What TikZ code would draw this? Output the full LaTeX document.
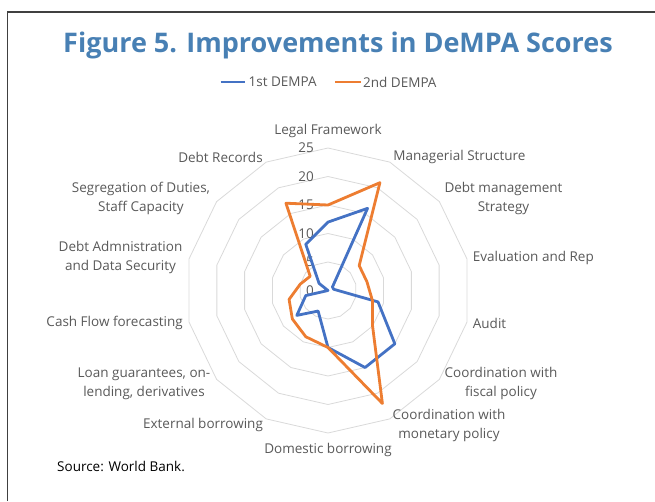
\documentclass[tikz,border=0pt]{standalone}
\usepackage{fontspec}
\setmainfont{Open Sans}
\definecolor{serieA}{RGB}{68,114,196}
\definecolor{serieB}{RGB}{237,125,49}
\definecolor{grille}{RGB}{217,217,217}
\definecolor{etiq}{RGB}{89,89,89}
\definecolor{titre}{RGB}{72,128,180}
\begin{document}
\begin{tikzpicture}[x=1pt,y=1pt,
    axe/.style={text=etiq,font=\fontsize{13.5}{19}\selectfont,align=center,inner sep=0pt},
    graduation/.style={text=etiq,font=\fontsize{13.5}{15}\selectfont,anchor=east,inner sep=0pt},
    legende/.style={text=etiq,font=\fontsize{13.5}{15}\selectfont,anchor=west,inner sep=0pt},
    serie/.style={line width=2.8pt,line join=round}]
  \useasboundingbox (-328,-210.5) rectangle (327,290.5);
  \draw[line width=1.5pt,black!75] (-320.5,-210.5) -- (-320.5,278.5) -- (327,278.5);
  \node[text=titre,font=\fontsize{27}{30}\bfseries\selectfont,anchor=base] (titre) at (10,237.5)
    {Figure 5. Improvements in DeMPA Scores};
  % legende
  \node[legende] (leg1) at (-79.5,208.5) {1st DEMPA};
  \node[legende] (leg2) at (35,208.5) {2nd DEMPA};
  \draw[serieA,line width=2.8pt] ([xshift=-28pt]leg1.west) -- ([xshift=-4pt]leg1.west);
  \draw[serieB,line width=2.8pt] ([xshift=-28pt]leg2.west) -- ([xshift=-2pt]leg2.west);
  % anneaux 0..25
  \foreach \r in {1,...,5}
    \draw[grille,line width=0.8pt] plot[domain=0:13, samples=14]
      ({28.5*\r*cos(90-\x*360/14)}, {28.5*\r*sin(90-\x*360/14)}) -- cycle;
  \foreach \v [count=\i from 0] in {0,5,...,25}
    \node[graduation] (g\v) at (-14,{28.5*\i}) {\v};
  % series
  \draw[serie,serieA] (90:{5.7*12}) \foreach \v [count=\i] in {16,1,1,9,15,15,10,4,7,4,0,2,9}
    { -- ({90-\i*360/14}:{5.7*\v}) } -- cycle;
  \draw[serie,serieB] (90:{5.7*15}) \foreach \v [count=\i] in {21,7,7,8,10,22,10,9,8,7,5,4,17}
    { -- ({90-\i*360/14}:{5.7*\v}) } -- cycle;
  % etiquettes des axes
  \node[axe] (legal) at (0,159.5) {Legal Framework};
  \node[axe] (manag) at (131.5,133.5) {Managerial Structure};
  \node[axe] (strat) at (175.5,92) {Debt management\\Strategy};
  \node[axe,anchor=west] (evalu) at (144.7,32.5) {Evaluation and Rep};
  \node[axe,anchor=west] (audit) at (144.7,-32.5) {Audit};
  \node[axe] (fisc) at (173,-93) {Coordination with\\fiscal policy};
  \node[axe] (monet) at (121,-134.5) {Coordination with\\monetary policy};
  \node[axe] (domes) at (0,-159.5) {Domestic borrowing};
  \node[axe] (exter) at (-125,-134.5) {External borrowing};
  \node[axe] (loan) at (-184,-93) {Loan guarantees, on-\\lending, derivatives};
  \node[axe,anchor=east] (cash) at (-145,-32.5) {Cash Flow forecasting};
  \node[axe] (admin) at (-207.5,33) {Debt Admnistration\\and Data Security};
  \node[axe] (segr) at (-187,92) {Segregation of Duties,\\Staff Capacity};
  \node[axe] (recor) at (-107.5,133.5) {Debt Records};
  \node[font=\fontsize{13.5}{15}\selectfont,anchor=west,inner sep=0pt] (source) at (-271,-175.5) {Source: World Bank.};
\end{tikzpicture}
\end{document}
